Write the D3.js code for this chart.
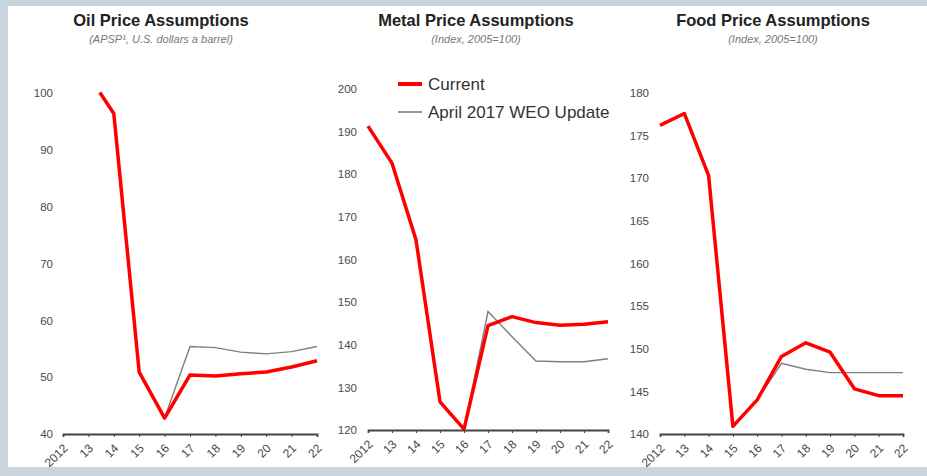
<!DOCTYPE html>
<html>
<head>
<meta charset="utf-8">
<script src="https://cdn.jsdelivr.net/npm/d3@7"></script>
<style>
  body { margin: 0; background: #c9d5dd; }
  svg { display: block; font-family: "Liberation Sans", Arial, sans-serif; }
</style>
</head>
<body>
<svg id="chart" width="927" height="476"></svg>
<script>
// years on the x axis and their labels
var years = [2012, 2013, 2014, 2015, 2016, 2017, 2018, 2019, 2020, 2021, 2022];
var yearLabels = ["2012", "13", "14", "15", "16", "17", "18", "19", "20", "21", "22"];

// [year, value] pairs
var oilCurrent = [[2013.45, 100.1], [2014, 96.4], [2015, 50.9], [2016, 42.8], [2017, 50.4],
    [2018, 50.2], [2019, 50.6], [2020, 50.9], [2021, 51.8], [2022, 52.9]];
var oilWeo = [[2016, 42.8], [2017, 55.4], [2018, 55.2], [2019, 54.4], [2020, 54.1],
    [2021, 54.5], [2022, 55.4]];

var metalCurrent = [[2012, 191.3], [2013, 182.6], [2014, 164.6], [2015, 126.6], [2016, 120.2],
    [2017, 144.5], [2018, 146.6], [2019, 145.2], [2020, 144.6], [2021, 144.8], [2022, 145.4]];
var metalWeo = [[2016, 120.2], [2017, 147.8], [2018, 141.9], [2019, 136.2], [2020, 136.0],
    [2021, 136.0], [2022, 136.7]];

var foodCurrent = [[2012, 176.2], [2013, 177.6], [2014, 170.3], [2015, 140.9], [2016, 144.0],
    [2017, 149.1], [2018, 150.7], [2019, 149.6], [2020, 145.3], [2021, 144.5], [2022, 144.5]];
var foodWeo = [[2016, 144.0], [2017, 148.3], [2018, 147.6], [2019, 147.2], [2020, 147.2],
    [2021, 147.2], [2022, 147.2]];

var oilTicks = [40, 50, 60, 70, 80, 90, 100];
var metalTicks = [120, 130, 140, 150, 160, 170, 180, 190, 200];
var foodTicks = [140, 145, 150, 155, 160, 165, 170, 175, 180];

var legendLabels = ["Current", "April 2017 WEO Update"];

var svg = d3.select("#chart");

svg.append("rect")
    .attr("x", 8)
    .attr("y", 6)
    .attr("width", 919)
    .attr("height", 461)
    .attr("fill", "#ffffff");

var panels = [
    {title: "Oil Price Assumptions", sub: "(APSP\u00b9, U.S. dollars a barrel)", cx: 161,
        xr: [63, 317], yr: [434, 93], dom: [40, 100], ticks: oilTicks, axisX: 56,
        current: oilCurrent, weo: oilWeo},
    {title: "Metal Price Assumptions", sub: "(Index, 2005=100)", cx: 476,
        xr: [368, 608], yr: [430, 89], dom: [120, 200], ticks: metalTicks, axisX: 360,
        current: metalCurrent, weo: metalWeo},
    {title: "Food Price Assumptions", sub: "(Index, 2005=100)", cx: 773,
        xr: [660, 903], yr: [434, 93], dom: [140, 180], ticks: foodTicks, axisX: 652,
        current: foodCurrent, weo: foodWeo}
];

panels.forEach(function (p) {
    var x = d3.scaleLinear().domain([2012, 2022]).range(p.xr);
    var y = d3.scaleLinear().domain(p.dom).range(p.yr);
    var g = svg.append("g");

    g.append("text")
        .attr("x", p.cx)
        .attr("y", 26)
        .attr("text-anchor", "middle")
        .attr("font-size", 16.5)
        .attr("font-weight", "bold")
        .attr("fill", "#222")
        .text(p.title);

    g.append("text")
        .attr("x", p.cx)
        .attr("y", 43)
        .attr("text-anchor", "middle")
        .attr("font-size", 11)
        .attr("font-style", "italic")
        .attr("fill", "#777")
        .text(p.sub);

    var yAxis = g.append("g")
        .attr("transform", "translate(" + p.axisX + ",0)")
        .call(d3.axisLeft(y).tickValues(p.ticks).tickSize(0).tickPadding(3));
    yAxis.select(".domain").remove();
    yAxis.selectAll("text")
        .attr("font-size", 11.5)
        .attr("fill", "#4a4a4a")
        .attr("font-family", null);

    var xAxis = g.append("g")
        .attr("transform", "translate(0," + p.yr[0] + ")")
        .call(d3.axisBottom(x).tickValues(years).tickSize(3).tickSizeOuter(3)
            .tickFormat(function (d, i) { return yearLabels[i]; }));
    xAxis.select(".domain")
        .attr("stroke", "#444")
        .attr("stroke-width", 1.8);
    xAxis.selectAll(".tick line")
        .attr("stroke", "#444");
    xAxis.selectAll("text")
        .attr("font-size", 12)
        .attr("fill", "#4a4a4a")
        .attr("font-family", null)
        .attr("text-anchor", "end")
        .attr("x", 0)
        .attr("y", 0)
        .attr("dy", "0.35em")
        .attr("transform", "translate(2,12) rotate(-45)");

    var line = d3.line()
        .x(function (d) { return x(d[0]); })
        .y(function (d) { return y(d[1]); });

    g.append("path")
        .datum(p.weo)
        .attr("d", line)
        .attr("fill", "none")
        .attr("stroke", "#7f7f7f")
        .attr("stroke-width", 1.4);

    g.append("path")
        .datum(p.current)
        .attr("d", line)
        .attr("fill", "none")
        .attr("stroke", "#ff0000")
        .attr("stroke-width", 3.5)
        .attr("stroke-linejoin", "round");
});

// legend in the metal panel
var legend = svg.append("g");
legendLabels.forEach(function (label, i) {
    var ly = 84 + i * 28;
    legend.append("line")
        .attr("x1", 398)
        .attr("x2", 422)
        .attr("y1", ly)
        .attr("y2", ly)
        .attr("stroke", i === 0 ? "#ff0000" : "#7f7f7f")
        .attr("stroke-width", i === 0 ? 4 : 1.6);
    legend.append("text")
        .attr("x", 428)
        .attr("y", ly)
        .attr("dy", "0.35em")
        .attr("font-size", 17)
        .attr("fill", "#333")
        .text(label);
});
</script>
</body>
</html>
